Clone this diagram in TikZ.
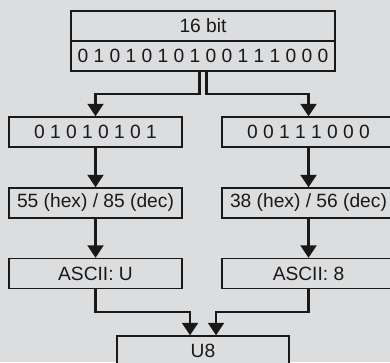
\documentclass[tikz,border=0pt]{standalone}
\usepackage{fontspec}
\setmainfont{Liberation Sans}
\usetikzlibrary{arrows.meta}
\definecolor{bg}{RGB}{220,221,223}
\definecolor{ink}{RGB}{25,25,25}
\begin{document}
\begin{tikzpicture}[x=1pt,y=-1pt,
  box/.style={draw=ink, line width=1.4pt, fill=bg, minimum height=30pt, inner sep=0pt, text=ink, font=\fontsize{19.2pt}{21pt}\selectfont},
  arr/.style={draw=ink, line width=2.2pt, -{Triangle[width=16pt,length=12.5pt]}}]
\useasboundingbox (0,0) rectangle (390,362);
\fill[bg] (0,0) rectangle (390,362);
\clip (0,0) rectangle (390,362);
\node[box, minimum width=264pt] (head) at (203,26) {16 bit};
\node[box, minimum width=264pt] (bits) at (203,56) {0 1 0 1 0 1 0 1 0 0 1 1 1 0 0 0};
\node[box, minimum width=173pt] (l1) at (95.5,132) {0 1 0 1 0 1 0 1};
\node[box, minimum width=173pt] (r1) at (308.5,132) {0 0 1 1 1 0 0 0};
\node[box, minimum width=173pt] (l2) at (95.5,203) {55 (hex) / 85 (dec)};
\node[box, minimum width=173pt] (r2) at (308.5,203) {38 (hex) / 56 (dec)};
\node[box, minimum width=173pt] (l3) at (95.5,273.5) {ASCII: U};
\node[box, minimum width=173pt] (r3) at (308.5,273.5) {ASCII: 8};
\node[box, minimum width=172pt] (u8) at (203,351) {U8};
\draw[arr] ([xshift=-3.5pt]bits.south) -- ++(0,22) -| (l1.north);
\draw[arr] ([xshift=3.5pt]bits.south) -- ++(0,22) -| (r1.north);
\draw[arr] (l1.south) -- (l2.north);
\draw[arr] (r1.south) -- (r2.north);
\draw[arr] (l2.south) -- (l3.north);
\draw[arr] (r2.south) -- (r3.north);
\draw[arr] (l3.south) -- ++(0,23) -| ([xshift=-13pt]u8.north);
\draw[arr] (r3.south) -- ++(0,23) -| ([xshift=13pt]u8.north);
\end{tikzpicture}
\end{document}
